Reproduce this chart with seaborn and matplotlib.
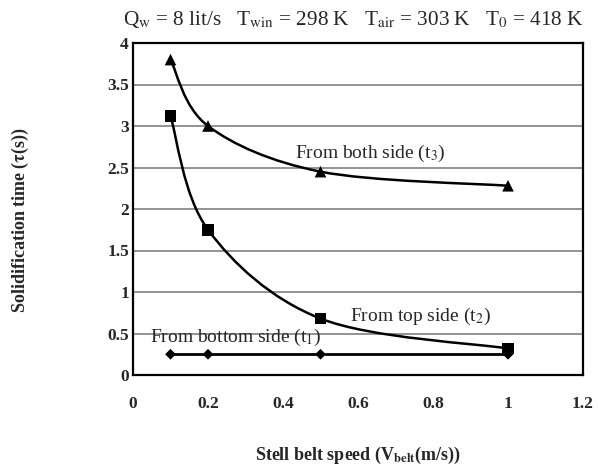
import numpy as np
import pandas as pd
import seaborn as sns
import matplotlib
matplotlib.use("Agg")
import matplotlib.pyplot as plt
from matplotlib.path import Path
from matplotlib.patches import PathPatch

# belt speed (m/s) and solidification times
speed = [0.1, 0.2, 0.5, 1.0]
t_bottom = [0.25, 0.25, 0.25, 0.25]
t_top = [3.12, 1.75, 0.68, 0.32]
t_both = [3.80, 3.00, 2.45, 2.28]

x_ticks = [0, 0.2, 0.4, 0.6, 0.8, 1, 1.2]
x_tick_labels = ["0", "0.2", "0.4", "0.6", "0.8", "1", "1.2"]
y_ticks = [0, 0.5, 1, 1.5, 2, 2.5, 3, 3.5, 4]
y_tick_labels = ["0", "0.5", "1", "1.5", "2", "2.5", "3", "3.5", "4"]

sns.set_style("white")
plt.rcParams["font.family"] = ["Liberation Serif", "DejaVu Serif"]
plt.rcParams["mathtext.fontset"] = "stix"

fig = plt.figure(figsize=(5.98, 4.72), dpi=100)
ax = fig.add_axes([133 / 598, 1 - 375 / 472, 450 / 598, 332 / 472])


def smooth_path(xs, ys):
    # excel-style smoothed line: cubic bezier segments (catmull-rom tangents)
    pts = list(zip(xs, ys))
    verts = [pts[0]]
    codes = [Path.MOVETO]
    n = len(pts)
    for i in range(n - 1):
        p0 = pts[i - 1] if i > 0 else pts[i]
        p1 = pts[i]
        p2 = pts[i + 1]
        p3 = pts[i + 2] if i + 2 < n else pts[i + 1]
        c1 = (p1[0] + (p2[0] - p0[0]) / 6, p1[1] + (p2[1] - p0[1]) / 6)
        c2 = (p2[0] - (p3[0] - p1[0]) / 6, p2[1] - (p3[1] - p1[1]) / 6)
        verts += [c1, c2, p2]
        codes += [Path.CURVE4] * 3
    return Path(verts, codes)


df = pd.DataFrame({"speed": speed * 3,
                   "time": t_bottom + t_top + t_both,
                   "case": ["bottom"] * 4 + ["top"] * 4 + ["both"] * 4})

for case, vals in [("top", t_top), ("both", t_both)]:
    ax.add_patch(PathPatch(smooth_path(speed, vals), fill=False,
                           edgecolor="black", lw=1.8, zorder=3))
ax.plot(speed, t_bottom, color="black", lw=2, zorder=3)

sns.scatterplot(data=df, x="speed", y="time", style="case", hue="case",
                markers={"bottom": "D", "top": "s", "both": "^"},
                palette={"bottom": "black", "top": "black", "both": "black"},
                size="case", sizes={"bottom": 30, "top": 70, "both": 70},
                edgecolor="black", linewidth=0, legend=False, ax=ax, zorder=4)

ax.set_xlim(0, 1.2)
ax.set_ylim(0, 4)
ax.set_xticks(x_ticks)
ax.set_xticklabels(x_tick_labels)
ax.set_yticks(y_ticks)
ax.set_yticklabels(y_tick_labels)
ax.tick_params(length=0, labelsize=12.5)
ax.tick_params(axis="x", pad=15)
ax.tick_params(axis="y", pad=3)
for lab in ax.get_xticklabels() + ax.get_yticklabels():
    lab.set_fontweight("bold")
ax.yaxis.grid(True, color="#808080", lw=1.2)
ax.xaxis.grid(False)
for sp in ax.spines.values():
    sp.set_color("black")
    sp.set_linewidth(1.6)

ax.set_xlabel("")
ax.set_ylabel("")

ax.text(0.432, 2.67, r"From both side (t$_3$)", fontsize=14, va="center")
ax.text(0.579, 0.70, r"From top side (t$_2$)", fontsize=14, va="center")
ax.text(0.045, 0.45, r"From bottom side (t$_1$)", fontsize=14, va="center")

fig.text(584 / 598, 1 - 19 / 472,
         r"Q$_{\rm w}$ = 8 lit/s   T$_{\rm win}$ = 298 K   T$_{\rm air}$ = 303 K   T$_0$ = 418 K",
         fontsize=15.3, va="center", ha="right")

fig.text(358 / 598, 1 - 455 / 472, r"Stell belt speed (V$_{\bf belt}$(m/s))",
         fontsize=13, fontweight="bold", ha="center", va="center")
fig.text(20 / 598, 1 - 220 / 472, r"Solidification time ($\bf{\tau}$(s))",
         fontsize=13, fontweight="bold", ha="center", va="center", rotation=90)

fig.savefig("out.png", dpi=100)
